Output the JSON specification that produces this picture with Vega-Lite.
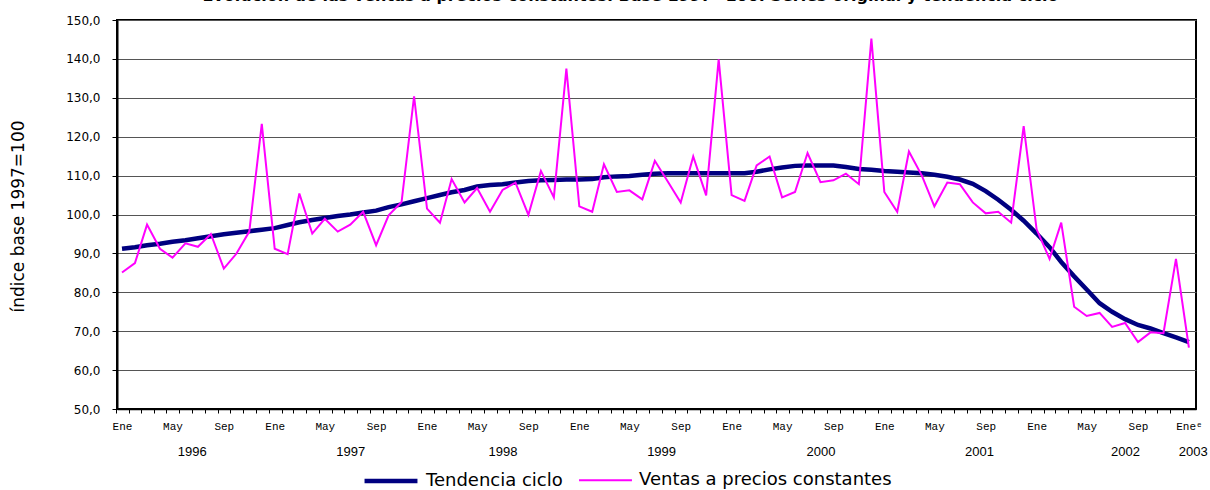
{
  "$schema": "https://vega.github.io/schema/vega-lite/v6.json",
  "width": 1079,
  "height": 389,
  "autosize": "none",
  "padding": {"left": 117, "top": 20, "right": 14, "bottom": 81},
  "background": "white",
  "config": {
    "view": {"stroke": "black", "strokeWidth": 2},
    "font": "Liberation Sans"
  },
  "title": {
    "text": "Evolución de las ventas a precios constantes. Base 1997=100. Series original y tendencia ciclo",
    "fontSize": 16, "fontWeight": "bold", "font": "DejaVu Sans", "color": "black",
    "anchor": "middle", "offset": 10, "dx": -26
  },
  "data": {"values": [
    {"fecha": "1996-01-01", "Tendencia ciclo": 91.2, "Ventas a precios constantes": 85.1},
    {"fecha": "1996-02-01", "Tendencia ciclo": 91.6, "Ventas a precios constantes": 87.5},
    {"fecha": "1996-03-01", "Tendencia ciclo": 92.1, "Ventas a precios constantes": 97.4},
    {"fecha": "1996-04-01", "Tendencia ciclo": 92.5, "Ventas a precios constantes": 91.2},
    {"fecha": "1996-05-01", "Tendencia ciclo": 93.0, "Ventas a precios constantes": 88.9},
    {"fecha": "1996-06-01", "Tendencia ciclo": 93.4, "Ventas a precios constantes": 92.6},
    {"fecha": "1996-07-01", "Tendencia ciclo": 93.9, "Ventas a precios constantes": 91.7},
    {"fecha": "1996-08-01", "Tendencia ciclo": 94.4, "Ventas a precios constantes": 95.0},
    {"fecha": "1996-09-01", "Tendencia ciclo": 94.9, "Ventas a precios constantes": 86.1},
    {"fecha": "1996-10-01", "Tendencia ciclo": 95.3, "Ventas a precios constantes": 89.9},
    {"fecha": "1996-11-01", "Tendencia ciclo": 95.7, "Ventas a precios constantes": 95.6},
    {"fecha": "1996-12-01", "Tendencia ciclo": 96.1, "Ventas a precios constantes": 123.3},
    {"fecha": "1997-01-01", "Tendencia ciclo": 96.5, "Ventas a precios constantes": 91.2},
    {"fecha": "1997-02-01", "Tendencia ciclo": 97.3, "Ventas a precios constantes": 89.8},
    {"fecha": "1997-03-01", "Tendencia ciclo": 98.0, "Ventas a precios constantes": 105.4},
    {"fecha": "1997-04-01", "Tendencia ciclo": 98.6, "Ventas a precios constantes": 95.1},
    {"fecha": "1997-05-01", "Tendencia ciclo": 99.1, "Ventas a precios constantes": 98.9},
    {"fecha": "1997-06-01", "Tendencia ciclo": 99.6, "Ventas a precios constantes": 95.6},
    {"fecha": "1997-07-01", "Tendencia ciclo": 100.0, "Ventas a precios constantes": 97.4},
    {"fecha": "1997-08-01", "Tendencia ciclo": 100.5, "Ventas a precios constantes": 100.7},
    {"fecha": "1997-09-01", "Tendencia ciclo": 101.0, "Ventas a precios constantes": 92.1},
    {"fecha": "1997-10-01", "Tendencia ciclo": 101.9, "Ventas a precios constantes": 99.8},
    {"fecha": "1997-11-01", "Tendencia ciclo": 102.6, "Ventas a precios constantes": 103.2},
    {"fecha": "1997-12-01", "Tendencia ciclo": 103.4, "Ventas a precios constantes": 130.4},
    {"fecha": "1998-01-01", "Tendencia ciclo": 104.2, "Ventas a precios constantes": 101.5},
    {"fecha": "1998-02-01", "Tendencia ciclo": 105.0, "Ventas a precios constantes": 97.9},
    {"fecha": "1998-03-01", "Tendencia ciclo": 105.7, "Ventas a precios constantes": 109.1},
    {"fecha": "1998-04-01", "Tendencia ciclo": 106.3, "Ventas a precios constantes": 103.1},
    {"fecha": "1998-05-01", "Tendencia ciclo": 107.2, "Ventas a precios constantes": 106.8},
    {"fecha": "1998-06-01", "Tendencia ciclo": 107.6, "Ventas a precios constantes": 100.7},
    {"fecha": "1998-07-01", "Tendencia ciclo": 107.8, "Ventas a precios constantes": 106.3},
    {"fecha": "1998-08-01", "Tendencia ciclo": 108.2, "Ventas a precios constantes": 108.2},
    {"fecha": "1998-09-01", "Tendencia ciclo": 108.6, "Ventas a precios constantes": 99.9},
    {"fecha": "1998-10-01", "Tendencia ciclo": 108.8, "Ventas a precios constantes": 111.2},
    {"fecha": "1998-11-01", "Tendencia ciclo": 108.9, "Ventas a precios constantes": 104.4},
    {"fecha": "1998-12-01", "Tendencia ciclo": 109.0, "Ventas a precios constantes": 137.5},
    {"fecha": "1999-01-01", "Tendencia ciclo": 109.0, "Ventas a precios constantes": 102.1},
    {"fecha": "1999-02-01", "Tendencia ciclo": 109.1, "Ventas a precios constantes": 100.7},
    {"fecha": "1999-03-01", "Tendencia ciclo": 109.6, "Ventas a precios constantes": 112.9},
    {"fecha": "1999-04-01", "Tendencia ciclo": 109.8, "Ventas a precios constantes": 105.8},
    {"fecha": "1999-05-01", "Tendencia ciclo": 109.9, "Ventas a precios constantes": 106.2},
    {"fecha": "1999-06-01", "Tendencia ciclo": 110.2, "Ventas a precios constantes": 103.9},
    {"fecha": "1999-07-01", "Tendencia ciclo": 110.5, "Ventas a precios constantes": 113.8},
    {"fecha": "1999-08-01", "Tendencia ciclo": 110.6, "Ventas a precios constantes": 108.5},
    {"fecha": "1999-09-01", "Tendencia ciclo": 110.6, "Ventas a precios constantes": 103.1},
    {"fecha": "1999-10-01", "Tendencia ciclo": 110.6, "Ventas a precios constantes": 114.9},
    {"fecha": "1999-11-01", "Tendencia ciclo": 110.6, "Ventas a precios constantes": 104.9},
    {"fecha": "1999-12-01", "Tendencia ciclo": 110.6, "Ventas a precios constantes": 139.9},
    {"fecha": "2000-01-01", "Tendencia ciclo": 110.6, "Ventas a precios constantes": 105.0},
    {"fecha": "2000-02-01", "Tendencia ciclo": 110.6, "Ventas a precios constantes": 103.5},
    {"fecha": "2000-03-01", "Tendencia ciclo": 111.0, "Ventas a precios constantes": 112.6},
    {"fecha": "2000-04-01", "Tendencia ciclo": 111.6, "Ventas a precios constantes": 114.9},
    {"fecha": "2000-05-01", "Tendencia ciclo": 112.1, "Ventas a precios constantes": 104.4},
    {"fecha": "2000-06-01", "Tendencia ciclo": 112.5, "Ventas a precios constantes": 105.8},
    {"fecha": "2000-07-01", "Tendencia ciclo": 112.6, "Ventas a precios constantes": 115.8},
    {"fecha": "2000-08-01", "Tendencia ciclo": 112.6, "Ventas a precios constantes": 108.3},
    {"fecha": "2000-09-01", "Tendencia ciclo": 112.6, "Ventas a precios constantes": 108.8},
    {"fecha": "2000-10-01", "Tendencia ciclo": 112.2, "Ventas a precios constantes": 110.5},
    {"fecha": "2000-11-01", "Tendencia ciclo": 111.7, "Ventas a precios constantes": 107.8},
    {"fecha": "2000-12-01", "Tendencia ciclo": 111.5, "Ventas a precios constantes": 145.2},
    {"fecha": "2001-01-01", "Tendencia ciclo": 111.2, "Ventas a precios constantes": 105.8},
    {"fecha": "2001-02-01", "Tendencia ciclo": 111.0, "Ventas a precios constantes": 100.7},
    {"fecha": "2001-03-01", "Tendencia ciclo": 110.8, "Ventas a precios constantes": 116.2},
    {"fecha": "2001-04-01", "Tendencia ciclo": 110.6, "Ventas a precios constantes": 110.0},
    {"fecha": "2001-05-01", "Tendencia ciclo": 110.2, "Ventas a precios constantes": 102.1},
    {"fecha": "2001-06-01", "Tendencia ciclo": 109.7, "Ventas a precios constantes": 108.2},
    {"fecha": "2001-07-01", "Tendencia ciclo": 109.0, "Ventas a precios constantes": 107.8},
    {"fecha": "2001-08-01", "Tendencia ciclo": 107.9, "Ventas a precios constantes": 103.1},
    {"fecha": "2001-09-01", "Tendencia ciclo": 106.0, "Ventas a precios constantes": 100.3},
    {"fecha": "2001-10-01", "Tendencia ciclo": 103.8, "Ventas a precios constantes": 100.7},
    {"fecha": "2001-11-01", "Tendencia ciclo": 101.2, "Ventas a precios constantes": 97.9},
    {"fecha": "2001-12-01", "Tendencia ciclo": 98.4, "Ventas a precios constantes": 122.7},
    {"fecha": "2002-01-01", "Tendencia ciclo": 95.1, "Ventas a precios constantes": 96.2},
    {"fecha": "2002-02-01", "Tendencia ciclo": 91.6, "Ventas a precios constantes": 88.6},
    {"fecha": "2002-03-01", "Tendencia ciclo": 87.8, "Ventas a precios constantes": 97.9},
    {"fecha": "2002-04-01", "Tendencia ciclo": 84.1, "Ventas a precios constantes": 76.3},
    {"fecha": "2002-05-01", "Tendencia ciclo": 80.7, "Ventas a precios constantes": 73.9},
    {"fecha": "2002-06-01", "Tendencia ciclo": 77.2, "Ventas a precios constantes": 74.7},
    {"fecha": "2002-07-01", "Tendencia ciclo": 75.0, "Ventas a precios constantes": 71.1},
    {"fecha": "2002-08-01", "Tendencia ciclo": 73.1, "Ventas a precios constantes": 72.1},
    {"fecha": "2002-09-01", "Tendencia ciclo": 71.6, "Ventas a precios constantes": 67.2},
    {"fecha": "2002-10-01", "Tendencia ciclo": 70.7, "Ventas a precios constantes": 69.7},
    {"fecha": "2002-11-01", "Tendencia ciclo": 69.5, "Ventas a precios constantes": 69.5},
    {"fecha": "2002-12-01", "Tendencia ciclo": 68.4, "Ventas a precios constantes": 88.6},
    {"fecha": "2003-01-01", "Tendencia ciclo": 67.2, "Ventas a precios constantes": 65.8}
  ]},
  "transform": [
    {"fold": ["Tendencia ciclo", "Ventas a precios constantes"], "as": ["serie", "valor"]}
  ],
  "layer": [
    {
      "mark": {"type": "line", "clip": true},
      "encoding": {
        "x": {
          "field": "fecha", "type": "temporal",
          "scale": {"type": "utc", "domain": [
            {"year": 1995, "month": 12, "date": 20, "utc": true},
            {"year": 2003, "month": 1, "date": 18, "utc": true}
          ]},
          "axis": {
            "orient": "bottom",
            "title": null,
            "tickCount": {"interval": "month", "step": 1},
            "labelExpr": "utcmonth(datum.value) == 0 ? (utcyear(datum.value) == 2003 ? 'Eneᵉ' : 'Ene') : utcmonth(datum.value) == 4 ? 'May' : utcmonth(datum.value) == 8 ? 'Sep' : ''",
            "labelFont": "Liberation Mono", "labelFontSize": 11, "labelColor": "black",
            "labelOverlap": false, "labelFlush": false, "labelPadding": 7,
            "tickOffset": -6, "labelOffset": 6,
            "ticks": true, "tickSize": 4, "tickColor": "black", "tickWidth": 1,
            "domain": true, "domainColor": "black", "domainWidth": 1.5,
            "grid": false
          }
        },
        "y": {
          "field": "valor", "type": "quantitative",
          "scale": {"domain": [50, 150], "nice": false, "zero": false},
          "axis": {
            "title": "índice base 1997=100",
            "titleFont": "DejaVu Sans", "titleFontSize": 17, "titleFontWeight": "normal", "titleColor": "black",
            "titleAngle": 270, "titleAlign": "center", "titleBaseline": "middle",
            "titleX": -99, "titleY": 196,
            "values": [50, 60, 70, 80, 90, 100, 110, 120, 130, 140, 150],
            "labelExpr": "replace(format(datum.value, '.1f'), '.', ',')",
            "labelFont": "DejaVu Sans", "labelFontSize": 12, "labelColor": "black", "labelPadding": 12,
            "ticks": true, "tickSize": 5, "tickColor": "black",
            "domain": true, "domainColor": "black", "domainWidth": 2,
            "grid": true, "gridColor": "#555555", "gridWidth": 1
          }
        },
        "color": {
          "field": "serie", "type": "nominal",
          "scale": {"domain": ["Tendencia ciclo", "Ventas a precios constantes"], "range": ["#000080", "#FF00FF"]},
          "legend": {
            "title": null, "orient": "none", "legendX": 245, "legendY": 432, "direction": "horizontal",
            "symbolType": "stroke", "symbolSize": 2800, "labelFont": "DejaVu Sans", "labelFontSize": 18,
            "labelColor": "black", "labelLimit": 500, "columnPadding": 12, "labelOffset": 6
          }
        },
        "strokeWidth": {
          "field": "serie", "type": "nominal",
          "scale": {"domain": ["Tendencia ciclo", "Ventas a precios constantes"], "range": [4.5, 2]},
          "legend": {
            "title": null, "orient": "none", "legendX": 245, "legendY": 432, "direction": "horizontal",
            "symbolType": "stroke", "symbolSize": 2800, "labelFont": "DejaVu Sans", "labelFontSize": 18,
            "labelColor": "black", "labelLimit": 500, "columnPadding": 12, "labelOffset": 6
          }
        }
      }
    },
    {
      "mark": {"type": "point", "opacity": 0},
      "encoding": {
        "x": {
          "field": "fecha", "type": "temporal",
          "axis": {
            "orient": "bottom",
            "title": null,
            "values": [
              {"year": 1996, "month": 6, "date": 16, "utc": true},
              {"year": 1997, "month": 7, "date": 1, "utc": true},
              {"year": 1998, "month": 7, "date": 1, "utc": true},
              {"year": 1999, "month": 7, "date": 16, "utc": true},
              {"year": 2000, "month": 8, "date": 1, "utc": true},
              {"year": 2001, "month": 8, "date": 16, "utc": true},
              {"year": 2002, "month": 8, "date": 1, "utc": true},
              {"year": 2003, "month": 1, "date": 10, "utc": true}
            ],
            "labelExpr": "utcFormat(datum.value, '%Y')",
            "labelFont": "Liberation Sans", "labelFontSize": 13, "labelColor": "black",
            "labelOverlap": false, "labelFlush": false, "labelPadding": 36,
            "ticks": false, "tickSize": 0, "domain": false, "grid": false
          }
        }
      }
    }
  ],
  "resolve": {"axis": {"x": "independent"}}
}
